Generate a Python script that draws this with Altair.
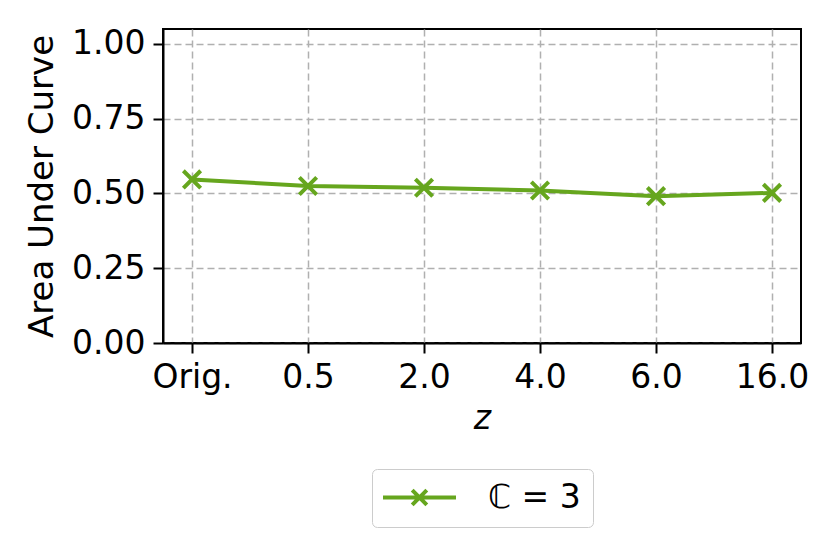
import altair as alt
import pandas as pd

categories = ["Orig.", "0.5", "2.0", "4.0", "6.0", "16.0"]
auc_values = [0.547, 0.525, 0.519, 0.510, 0.491, 0.502]
series_name = "ℂ = 3"

df = pd.DataFrame({"z": categories, "auc": auc_values, "series": [series_name] * len(categories)})

GREEN = "#66a61e"
FONT = "DejaVu Sans"
FS = 33

x_enc = alt.X("z:N", sort=categories,
              scale=alt.Scale(type="point", padding=0.25),
              axis=alt.Axis(title="z", labelAngle=0, titleFontStyle="italic", titleFontWeight="normal"))
y_enc = alt.Y("auc:Q", scale=alt.Scale(domain=[0, 1.05], nice=False, zero=True),
              axis=alt.Axis(title="Area Under Curve", values=[0, 0.25, 0.5, 0.75, 1.0], format=".2f",
                            titleFontWeight="normal", titleFontSize=34))

# wide line with an x in the middle; coordinates beyond unit box so the row stays short
legend_path = "M-4,0L4,0M-0.8,-0.8L0.8,0.8M-0.8,0.8L0.8,-0.8"

line = alt.Chart(df).mark_line(strokeWidth=4).encode(
    x=x_enc, y=y_enc,
    color=alt.Color("series:N", scale=alt.Scale(range=[GREEN]),
                    legend=alt.Legend(title=None, orient="none", legendX=209, legendY=440,
                                      symbolType=legend_path, symbolSize=333,
                                      symbolStrokeWidth=4, symbolFillColor="transparent",
                                      symbolOffset=19,
                                      labelFontSize=FS, labelFont=FONT, labelColor="black",
                                      padding=12, strokeColor="#cccccc", fillColor="white",
                                      cornerRadius=5, labelOffset=52))
)
points = alt.Chart(df).mark_point(shape="M-1,-1L1,1M-1,1L1,-1", size=300, filled=False,
                                  strokeWidth=4, color=GREEN, opacity=1).encode(x=x_enc, y=y_enc)

chart = (line + points).properties(
    width=638, height=314,
    autosize=alt.AutoSizeParams(type="none"),
    padding={"left": 155, "top": 21, "right": 23, "bottom": 199},
).configure_view(stroke="black", strokeWidth=2).configure_axis(
    labelFont=FONT, titleFont=FONT, labelFontSize=FS, titleFontSize=FS,
    labelColor="black", titleColor="black",
    domain=True, domainColor="black", domainWidth=2,
    tickColor="black", tickSize=10, tickWidth=2, labelPadding=8,
    grid=True, gridColor="#b0b0b0", gridDash=[7, 4], gridWidth=1.5,
).configure_axisY(titlePadding=12).configure_axisX(titlePadding=8)

chart.save("out.html", embed_options={"renderer": "svg", "actions": False})
